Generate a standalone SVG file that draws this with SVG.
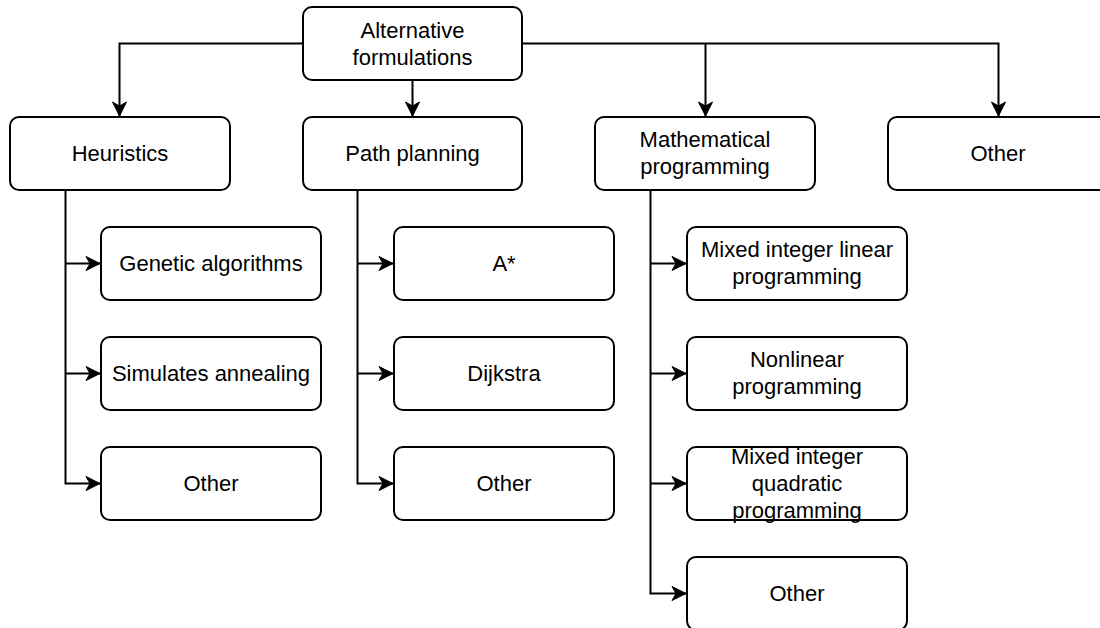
<svg xmlns="http://www.w3.org/2000/svg" width="1100" height="628" viewBox="0 0 1100 628">
<defs>
<marker id="arr" markerUnits="userSpaceOnUse" markerWidth="18" markerHeight="18" refX="14" refY="7" orient="auto" overflow="visible">
<path d="M0,0 L14,7 L0,14 L4,7 Z" fill="#000" stroke="#000" stroke-width="1" stroke-linejoin="miter"/>
</marker>
<style>
.box{fill:#fff;stroke:#000;stroke-width:2}
.t{font-family:"Liberation Sans",Arial,sans-serif;font-size:22px;fill:#000;text-anchor:middle}
.c{fill:none;stroke:#000;stroke-width:2}
</style>
</defs>
<rect width="1100" height="628" fill="#fff"/>
<g id="connectors">
<path class="c" d="M303,43.5 H119.5 V116" marker-end="url(#arr)"/>
<path class="c" d="M412.5,80 V116" marker-end="url(#arr)"/>
<path class="c" d="M522,43.5 H998.5 V116" marker-end="url(#arr)"/>
<path class="c" d="M705.5,43.5 V116" marker-end="url(#arr)"/>
<path class="c" d="M65.5,190 V483.5 H100" marker-end="url(#arr)"/>
<path class="c" d="M65.5,263.5 H100" marker-end="url(#arr)"/>
<path class="c" d="M65.5,373.5 H100" marker-end="url(#arr)"/>
<path class="c" d="M357.5,190 V483.5 H393" marker-end="url(#arr)"/>
<path class="c" d="M357.5,263.5 H393" marker-end="url(#arr)"/>
<path class="c" d="M357.5,373.5 H393" marker-end="url(#arr)"/>
<path class="c" d="M650.5,190 V593.5 H686" marker-end="url(#arr)"/>
<path class="c" d="M650.5,263.5 H686" marker-end="url(#arr)"/>
<path class="c" d="M650.5,373.5 H686" marker-end="url(#arr)"/>
<path class="c" d="M650.5,483.5 H686" marker-end="url(#arr)"/>
</g>
<g id="root"><rect class="box" x="303" y="7" width="219" height="73" rx="9"/><text class="t" x="412.5" y="37.5">Alternative</text><text class="t" x="412.5" y="64.5">formulations</text></g>
<g id="heuristics"><rect class="box" x="10" y="117" width="220" height="73" rx="9"/><text class="t" x="120" y="161">Heuristics</text></g>
<g id="path-planning"><rect class="box" x="303" y="117" width="219" height="73" rx="9"/><text class="t" x="412.5" y="161">Path planning</text></g>
<g id="math-programming"><rect class="box" x="595" y="117" width="220" height="73" rx="9"/><text class="t" x="705" y="147">Mathematical</text><text class="t" x="705" y="174">programming</text></g>
<g id="other-top"><rect class="box" x="888" y="117" width="220" height="73" rx="9"/><text class="t" x="998" y="161">Other</text></g>
<g id="genetic"><rect class="box" x="101" y="227" width="220" height="73" rx="9"/><text class="t" x="211" y="271">Genetic algorithms</text></g>
<g id="annealing"><rect class="box" x="101" y="337" width="220" height="73" rx="9"/><text class="t" x="211" y="381">Simulates annealing</text></g>
<g id="heur-other"><rect class="box" x="101" y="447" width="220" height="73" rx="9"/><text class="t" x="211" y="491">Other</text></g>
<g id="astar"><rect class="box" x="394" y="227" width="220" height="73" rx="9"/><text class="t" x="504" y="271">A*</text></g>
<g id="dijkstra"><rect class="box" x="394" y="337" width="220" height="73" rx="9"/><text class="t" x="504" y="381">Dijkstra</text></g>
<g id="path-other"><rect class="box" x="394" y="447" width="220" height="73" rx="9"/><text class="t" x="504" y="491">Other</text></g>
<g id="milp"><rect class="box" x="687" y="227" width="220" height="73" rx="9"/><text class="t" x="797" y="257">Mixed integer linear</text><text class="t" x="797" y="284">programming</text></g>
<g id="nlp"><rect class="box" x="687" y="337" width="220" height="73" rx="9"/><text class="t" x="797" y="367">Nonlinear</text><text class="t" x="797" y="394">programming</text></g>
<g id="miqp"><rect class="box" x="687" y="447" width="220" height="73" rx="9"/><text class="t" x="797" y="464">Mixed integer</text><text class="t" x="797" y="491">quadratic</text><text class="t" x="797" y="518">programming</text></g>
<g id="math-other"><rect class="box" x="687" y="557" width="220" height="73" rx="9"/><text class="t" x="797" y="601">Other</text></g>
</svg>
